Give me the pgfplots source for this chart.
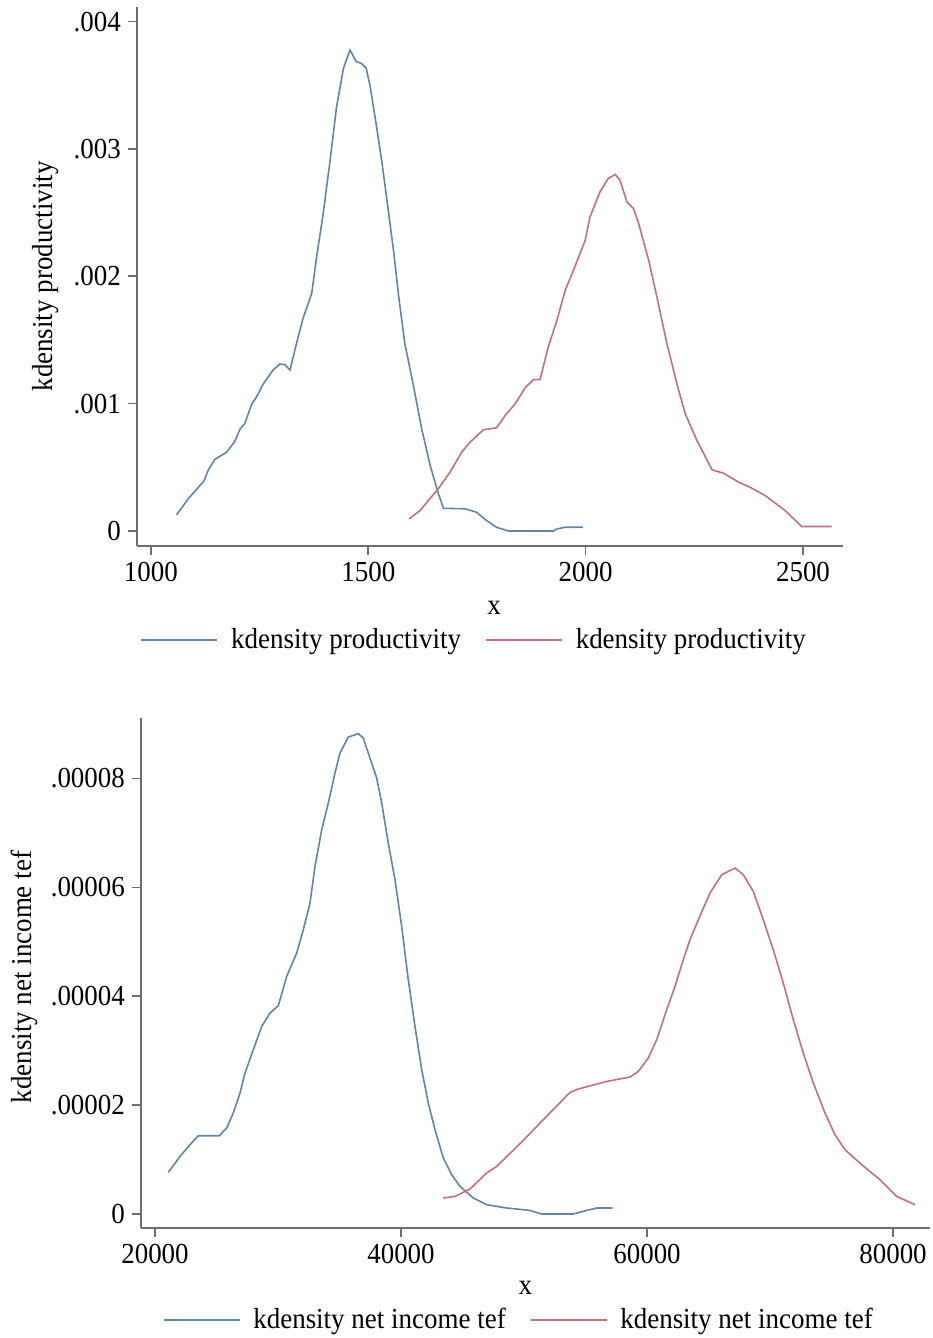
\documentclass[border=0pt]{standalone}
\usepackage{pgfplots}
\pgfplotsset{compat=1.18}
\usepackage{fontspec}
\setmainfont{Liberation Serif}[FakeStretch=0.93]

\definecolor{sblue}{RGB}{96,132,172}
\definecolor{sred}{RGB}{196,112,122}
\definecolor{axgray}{RGB}{110,110,110}

\pgfplotsset{
  statastyle/.style={
    scale only axis,
    anchor=south west,
    scaled ticks=false,
    axis x line*=bottom,
    axis y line*=left,
    axis line style={draw=axgray, line width=0.8pt},
    tick style={draw=axgray, line width=0.8pt},
    tick align=outside,
    major tick length=4.5pt,
    minor tick num=0,
    font=\fontsize{14.5}{17}\selectfont,
    tick label style={font=\fontsize{14.5}{17}\selectfont},
    label style={font=\fontsize{14.5}{17}\selectfont},
    ylabel style={rotate=0, anchor=center},
    xlabel style={anchor=center},
    legend columns=2,
    legend cell align=left,
    legend style={draw=none, fill=none, anchor=center,
      font=\fontsize{14.5}{17}\selectfont,
      /tikz/every odd column/.append style={column sep=4.5pt},
      /tikz/every even column/.append style={column sep=10pt}},
    legend image code/.code={\draw[#1] (0pt,0pt) -- (38pt,0pt);},
    every axis plot/.append style={line width=0.8pt, mark=none},
  }
}

\begin{document}
\begin{tikzpicture}
\useasboundingbox (0,0) rectangle (466pt,669pt);

% top panel: productivity
\begin{axis}[
  statastyle,
  at={(68.5pt,396pt)},
  width=353pt, height=269.5pt,
  xmin=968, xmax=2592,
  ymin=-0.000118, ymax=0.004115,
  xtick={1000,1500,2000,2500},
  xticklabels={1000,1500,2000,2500},
  ytick={0,0.001,0.002,0.003,0.004},
  yticklabels={0,.001,.002,.003,.004},
  xlabel={x},
  ylabel={kdensity productivity},
  xlabel style={at={(axis description cs:0.506,-0.115)}},
  ylabel style={at={(axis description cs:-0.130,0.5)}},
  legend style={at={(axis description cs:0.479,-0.174)}},
]
\addplot[sblue] coordinates {
(1059,0.000127) (1086,0.000253) (1122,0.000393) (1132,0.000478) (1147,0.000562)
(1174,0.000618) (1193,0.000703) (1205,0.0008) (1216,0.000843) (1232,0.000997)
(1243,0.001053) (1258,0.001152) (1281,0.001264) (1297,0.001311) (1308,0.001306)
(1320,0.001264) (1335,0.001474) (1350,0.001671) (1370,0.001867) (1381,0.002148)
(1396,0.002485) (1412,0.002906) (1427,0.003328) (1443,0.003636) (1458,0.003777)
(1472,0.003687) (1485,0.00367) (1495,0.003636) (1504,0.003496) (1516,0.003243)
(1531,0.002906) (1543,0.002597) (1558,0.002204) (1570,0.00184) (1584,0.001474)
(1604,0.001138) (1623,0.0008) (1642,0.00052) (1661,0.000295) (1673,0.000178)
(1723,0.000174) (1749,0.000147) (1772,0.000082) (1795,0.000029) (1822,0)
(1926,0) (1934,0.000016) (1953,0.000029) (1994,0.000029)
};
\addplot[sred] coordinates {
(1594,0.000095) (1619,0.00016) (1638,0.000239) (1661,0.000331) (1688,0.000462)
(1715,0.000619) (1734,0.000697) (1765,0.000795) (1795,0.00081) (1815,0.000907)
(1838,0.000999) (1861,0.001125) (1880,0.001188) (1895,0.001188) (1914,0.001444)
(1934,0.001654) (1953,0.00189) (1972,0.002047) (1987,0.002178) (1999,0.002283)
(2010,0.002466) (2033,0.002663) (2052,0.002768) (2068,0.0028) (2079,0.002755)
(2095,0.002584) (2110,0.002532) (2122,0.002414) (2145,0.002126) (2164,0.001837)
(2187,0.001471) (2210,0.001156) (2229,0.000921) (2256,0.000711) (2291,0.00048)
(2317,0.000454) (2352,0.000383) (2378,0.000344) (2413,0.000278) (2459,0.00016)
(2497,0.000035) (2566,0.000035)
};
\legend{kdensity productivity, kdensity productivity}
\end{axis}

% bottom panel: net income tef
\begin{axis}[
  statastyle,
  at={(70.5pt,55pt)},
  width=394.5pt, height=255pt,
  xmin=18862, xmax=83008,
  ymin=-0.00000257, ymax=0.0000911,
  xtick={20000,40000,60000,80000},
  xticklabels={20000,40000,60000,80000},
  ytick={0,0.00002,0.00004,0.00006,0.00008},
  yticklabels={0,.00002,.00004,.00006,.00008},
  xlabel={x},
  ylabel={kdensity net income tef},
  xlabel style={at={(axis description cs:0.487,-0.118)}},
  ylabel style={at={(axis description cs:-0.148,0.492)}},
  legend style={at={(axis description cs:0.48,-0.18)}},
]
\addplot[sblue] coordinates {
(21081,7.64e-6) (22033,1.058e-5) (22846,1.273e-5) (23520,1.438e-5) (25228,1.438e-5)
(25826,1.579e-5) (26366,1.855e-5) (26911,2.222e-5) (27317,2.589e-5) (27992,3.017e-5)
(28675,3.445e-5) (29350,3.691e-5) (30025,3.826e-5) (30707,4.364e-5) (31520,4.793e-5)
(32057,5.221e-5) (32602,5.711e-5) (33008,6.384e-5) (33553,7.057e-5) (34090,7.548e-5)
(34634,8.099e-5) (35040,8.466e-5) (35715,8.760e-5) (36528,8.821e-5) (36935,8.742e-5)
(37341,8.466e-5) (38024,8.007e-5) (38431,7.548e-5) (38967,6.813e-5) (39512,6.139e-5)
(40057,5.282e-5) (40593,4.303e-5) (41138,3.445e-5) (41683,2.650e-5) (42219,2.038e-5)
(42764,1.548e-5) (43439,1.028e-5) (44122,7.22e-6) (44797,5.07e-6) (45878,2.94e-6)
(46967,1.71e-6) (48593,1.10e-6) (50488,6.6e-7) (51438,0) (54007,0)
(55098,6.6e-7) (55911,1.1e-6) (57211,1.1e-6)
};
\addplot[sred] coordinates {
(43439,2.94e-6) (44390,3.23e-6) (45610,4.59e-6) (46967,7.53e-6) (47780,8.74e-6)
(49943,1.352e-5) (51569,1.732e-5) (53740,2.233e-5) (54415,2.296e-5) (56724,2.435e-5)
(58618,2.516e-5) (59293,2.619e-5) (60106,2.865e-5) (60788,3.201e-5) (61602,3.752e-5)
(62276,4.180e-5) (62951,4.670e-5) (63496,5.037e-5) (64171,5.405e-5) (65122,5.895e-5)
(66073,6.231e-5) (67154,6.354e-5) (67829,6.231e-5) (68642,5.925e-5) (69455,5.405e-5)
(70268,4.854e-5) (71081,4.242e-5) (71894,3.568e-5) (72707,2.957e-5) (73520,2.406e-5)
(74471,1.855e-5) (75284,1.456e-5) (76097,1.181e-5) (77455,9.05e-6) (78943,6.30e-6)
(80301,3.23e-6) (81788,1.71e-6)
};
\legend{kdensity net income tef, kdensity net income tef}
\end{axis}
\end{tikzpicture}
\end{document}
